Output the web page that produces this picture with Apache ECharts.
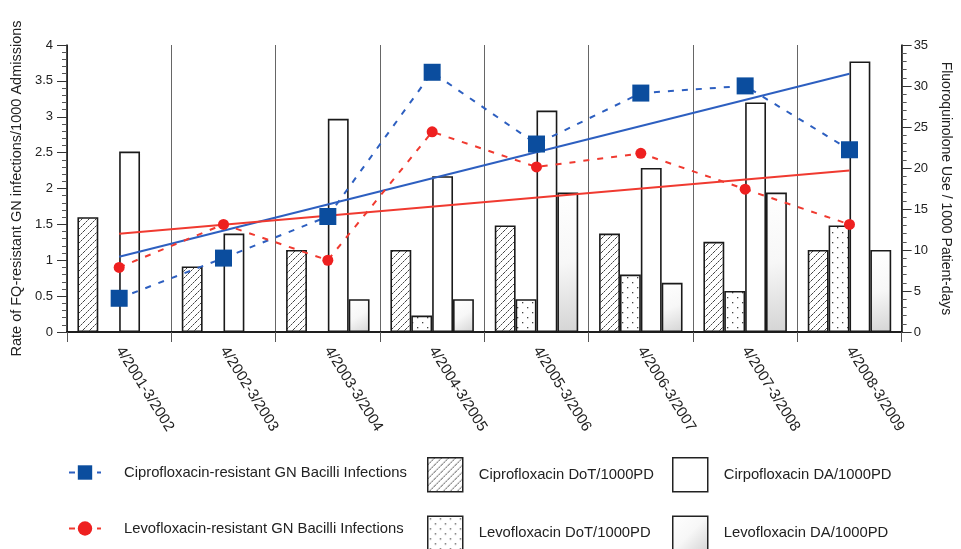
<!DOCTYPE html>
<html><head><meta charset="utf-8">
<script src="https://cdn.jsdelivr.net/npm/echarts@6/dist/echarts.min.js"></script>
<style>html,body{margin:0;padding:0;background:#fff}#c{width:961px;height:549px}</style>
</head><body><div id="c"></div>
<script>
// ---- data ----
const categories = ['4/2001-3/2002','4/2002-3/2003','4/2003-3/2004','4/2004-3/2005','4/2005-3/2006','4/2006-3/2007','4/2007-3/2008','4/2008-3/2009'];
const ciproInfections = [0.47, 1.03, 1.61, 3.62, 2.62, 3.33, 3.43, 2.54];
const levoInfections  = [0.90, 1.50, 1.00, 2.79, 2.30, 2.49, 1.99, 1.50];
const ciproTrend = [1.05, null, null, null, null, null, null, 3.60];
const levoTrend  = [1.37, null, null, null, null, null, null, 2.25];
const ciproDoT = [14, 8, 10, 10, 13, 12, 11, 10];
const levoDoT  = [null, null, null, 2, 4, 7, 5, 13];
const ciproDA  = [22, 12, 26, 19, 27, 20, 28, 33];
const levoDA   = [null, null, 4, 4, 17, 6, 17, 10];
const leftAxisRange = [0, 4, 0.5];
const rightAxisRange = [0, 35, 5];

// ---- patterns ----
function hatchPattern() {
  const c = document.createElement('canvas'); c.width = 7; c.height = 7;
  const g = c.getContext('2d');
  g.fillStyle = '#fff'; g.fillRect(0, 0, 7, 7);
  for (let i = 0; i < 7; i++) {
    g.fillStyle = (i % 2 === 0) ? '#444' : '#999';
    g.fillRect(i, 6 - i, 1, 1);
  }
  return { image: c, repeat: 'repeat' };
}
function dotPattern() {
  const c = document.createElement('canvas'); c.width = 10; c.height = 10;
  const g = c.getContext('2d');
  g.fillStyle = '#fff'; g.fillRect(0, 0, 10, 10);
  g.fillStyle = '#444';
  g.fillRect(2, 2, 1.3, 1.3); g.fillRect(7, 7, 1.3, 1.3);
  return { image: c, repeat: 'repeat' };
}
const daGradient = { type: 'linear', x: 0, y: 0, x2: 1, y2: 1,
  colorStops: [{ offset: 0, color: '#ffffff' }, { offset: 0.5, color: '#f7f7f7' }, { offset: 1, color: '#d4d4d4' }] };

const FONT = 'Liberation Sans, Arial, sans-serif';
const BLUE = '#0b4d9e', BLUE_L = '#2d5fc0', RED = '#ee2020', RED_L = '#f03a30';
const barBorder = { borderColor: '#1a1a1a', borderWidth: 1.6 };
const legendText = { fontFamily: FONT, fontSize: 14.8, color: '#222' };

const chart = echarts.init(document.getElementById('c'), null, { renderer: 'canvas' });
chart.setOption({
  animation: false,
  backgroundColor: '#fff',
  textStyle: { fontFamily: FONT },
  grid: { left: 67, right: 46, top: 45, bottom: 217, show: false },
  legend: [
    { left: 68, top: 465, height: 140, orient: 'vertical', padding: 0, itemWidth: 32, itemHeight: 18, itemGap: 41,
      data: ['Ciprofloxacin-resistant GN Bacilli Infections', 'Levofloxacin-resistant GN Bacilli Infections'],
      textStyle: Object.assign({ padding: [0, 0, 0, 18] }, legendText) },
    { left: 427, top: 457, height: 140, orient: 'vertical', padding: 0, itemWidth: 35, itemHeight: 34, itemGap: 23, icon: 'rect',
      data: ['Ciprofloxacin DoT/1000PD', 'Levofloxacin DoT/1000PD'],
      itemStyle: { borderColor: '#222', borderWidth: 1.5 },
      textStyle: Object.assign({ padding: [0, 0, 0, 11] }, legendText) },
    { left: 672, top: 457, height: 140, orient: 'vertical', padding: 0, itemWidth: 35, itemHeight: 34, itemGap: 23, icon: 'rect',
      data: ['Cirpofloxacin DA/1000PD', 'Levofloxacin DA/1000PD'],
      itemStyle: { borderColor: '#222', borderWidth: 1.5 },
      textStyle: Object.assign({ padding: [0, 0, 0, 11] }, legendText) }
  ],
  xAxis: [{
    type: 'category', data: categories, boundaryGap: true,
    axisLine: { show: true, lineStyle: { color: '#111', width: 1.5 } },
    axisTick: { show: true, length: 10, lineStyle: { color: '#555', width: 1 } },
    splitLine: { show: true, lineStyle: { color: '#666', width: 1 } },
    axisLabel: { interval: 0, rotate: -58, margin: 16, fontSize: 15, color: '#222', fontFamily: FONT }
  }, {
    type: 'category', data: categories, position: 'top', boundaryGap: true,
    axisLine: { show: true, lineStyle: { color: '#111', width: 1.5 } },
    axisTick: { show: false }, axisLabel: { show: false }, splitLine: { show: false }
  }],
  yAxis: [{
    type: 'value', min: leftAxisRange[0], max: leftAxisRange[1], interval: leftAxisRange[2], position: 'left',
    name: 'Rate of FQ-resistant GN infections/1000 Admissions', nameLocation: 'middle', nameGap: 40, nameRotate: 90,
    nameTextStyle: { fontSize: 14.5, color: '#222', fontFamily: FONT },
    axisLine: { show: true, lineStyle: { color: '#111', width: 1.5 } },
    axisTick: { show: true, length: 10, lineStyle: { color: '#333' } },
    minorTick: { show: true, splitNumber: 5, length: 5, lineStyle: { color: '#555' } },
    splitLine: { show: false },
    axisLabel: { margin: 14, fontSize: 13, color: '#222', fontFamily: FONT }
  }, {
    type: 'value', min: rightAxisRange[0], max: rightAxisRange[1], interval: rightAxisRange[2], position: 'right',
    name: 'Fluoroquinolone Use / 1000 Patient-days', nameLocation: 'middle', nameGap: 31, nameRotate: -90,
    nameTextStyle: { fontSize: 14, color: '#222', fontFamily: FONT },
    axisLine: { show: true, lineStyle: { color: '#111', width: 1.5 } },
    axisTick: { show: true, length: 10, lineStyle: { color: '#333' } },
    minorTick: { show: true, splitNumber: 5, length: 5, lineStyle: { color: '#555' } },
    splitLine: { show: false },
    axisLabel: { margin: 12, fontSize: 13, color: '#222', fontFamily: FONT }
  }],
  series: [
    { name: 'Ciprofloxacin DoT/1000PD', type: 'bar', yAxisIndex: 1, data: ciproDoT, barGap: '0%', barCategoryGap: '20%',
      itemStyle: Object.assign({ color: hatchPattern() }, barBorder), z: 2 },
    { name: 'Levofloxacin DoT/1000PD', type: 'bar', yAxisIndex: 1, data: levoDoT, barGap: '0%', barCategoryGap: '20%',
      itemStyle: Object.assign({ color: dotPattern() }, barBorder), z: 2 },
    { name: 'Cirpofloxacin DA/1000PD', type: 'bar', yAxisIndex: 1, data: ciproDA, barGap: '0%', barCategoryGap: '20%',
      itemStyle: Object.assign({ color: '#ffffff' }, barBorder), z: 2 },
    { name: 'Levofloxacin DA/1000PD', type: 'bar', yAxisIndex: 1, data: levoDA, barGap: '0%', barCategoryGap: '20%',
      itemStyle: Object.assign({ color: daGradient }, barBorder), z: 2 },
    { name: 'Ciprofloxacin trend', type: 'line', yAxisIndex: 0, data: ciproTrend, connectNulls: true, showSymbol: false,
      lineStyle: { color: BLUE_L, width: 2 }, itemStyle: { color: BLUE_L }, z: 5 },
    { name: 'Levofloxacin trend', type: 'line', yAxisIndex: 0, data: levoTrend, connectNulls: true, showSymbol: false,
      lineStyle: { color: RED_L, width: 2 }, itemStyle: { color: RED_L }, z: 5 },
    { name: 'Ciprofloxacin-resistant GN Bacilli Infections', type: 'line', yAxisIndex: 0, data: ciproInfections,
      symbol: 'rect', symbolSize: 17, lineStyle: { color: BLUE_L, width: 2, type: [6, 8] },
      itemStyle: { color: BLUE }, z: 6 },
    { name: 'Levofloxacin-resistant GN Bacilli Infections', type: 'line', yAxisIndex: 0, data: levoInfections,
      symbol: 'circle', symbolSize: 11, lineStyle: { color: RED_L, width: 2, type: [6, 8] },
      itemStyle: { color: RED }, z: 6 }
  ]
});
</script></body></html>
